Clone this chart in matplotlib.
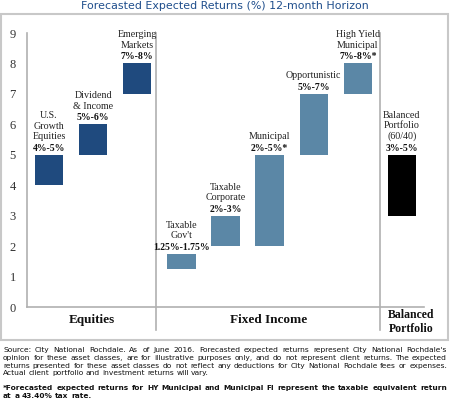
import matplotlib
matplotlib.use("Agg")
import matplotlib.pyplot as plt
from matplotlib.transforms import IdentityTransform
from matplotlib.patches import Rectangle

# ---------------- data ----------------
names = ["U.S.\nGrowth\nEquities", "Dividend\n& Income", "Emerging\nMarkets",
         "Taxable\nGov't", "Taxable\nCorporate", "Municipal", "Opportunistic",
         "High Yield\nMunicipal", "Balanced\nPortfolio\n(60/40)"]
low = [4, 5, 7, 1.25, 2, 2, 5, 7, 3]
high = [5, 6, 8, 1.75, 3, 5, 7, 8, 5]
range_labels = ["4%-5%", "5%-6%", "7%-8%", "1.25%-1.75%", "2%-3%", "2%-5%*",
                "5%-7%", "7%-8%*", "3%-5%"]
groups = ["E", "E", "E", "F", "F", "F", "F", "F", "B"]
group_titles = ["Equities", "Fixed Income", "Balanced\nPortfolio"]
yticks = [0, 1, 2, 3, 4, 5, 6, 7, 8, 9]
title = "Forecasted Expected Returns (%) 12-month Horizon"
note_lines = [
    "Source: City National Rochdale. As of June 2016. Forecasted expected returns represent City National Rochdale's",
    "opinion for these asset classes, are for illustrative purposes only, and do not represent client returns. The expected",
    "returns presented for these asset classes do not reflect any deductions for City National Rochdale fees or expenses.",
    "Actual client portfolio and investment returns will vary.",
]
bold_lines = [
    "*Forecasted expected returns for HY Municipal and Municipal FI represent the taxable equivalent return",
    "at a 43.40% tax rate.",
]

colors = {"E": "#1f4a7e", "F": "#5b87a6", "B": "#000000"}
SERIF = "Liberation Serif"

W, H = 450, 398
fig = plt.figure(figsize=(4.5, 3.98), dpi=100)

def px(x, y):
    return x / W, 1 - y / H

# axes: x from 27 to 424 px, y=0 at 307 px, y=9 at 33 px
ax = fig.add_axes([27 / W, (H - 307) / H, (424 - 27) / W, (307 - 33) / H])
ax.set_xlim(-0.5, 8.5)
ax.set_ylim(0, 9)

xs = list(range(len(names)))
heights = [h - l for h, l in zip(high, low)]
ax.bar(xs, heights, bottom=low, width=0.64,
       color=[colors[g] for g in groups], zorder=2)

for x, top, nm, rl in zip(xs, high, names, range_labels):
    ax.annotate(rl, (x, top), xytext=(0, 2), textcoords="offset pixels",
                ha="center", va="bottom", fontsize=7, fontweight="bold",
                family=SERIF, color="#111111")
    ax.annotate(nm, (x, top), xytext=(0, 13.5), textcoords="offset pixels",
                ha="center", va="bottom", fontsize=7.2, family=SERIF,
                color="#222222", linespacing=1.22)

for s in ["top", "right"]:
    ax.spines[s].set_visible(False)
for s in ["left", "bottom"]:
    ax.spines[s].set_color("#b0b0b0")
    ax.spines[s].set_linewidth(1.2)
ax.set_xticks([])
ax.set_yticks(yticks)
ax.set_yticklabels([str(t) for t in yticks], family=SERIF, fontsize=9,
                   color="#333333")
ax.tick_params(axis="y", length=0, pad=8)

# group separators
for xv in [2.43, 7.5]:
    ax.axvline(xv, ymin=-0.085, ymax=1.0, color="#b0b0b0", lw=1.2,
               clip_on=False, zorder=1)

# group titles
fig.text(*px(92, 320), group_titles[0], ha="center", va="center",
         family=SERIF, fontweight="bold", fontsize=9.5, color="#111111")
fig.text(*px(269, 320), group_titles[1], ha="center", va="center",
         family=SERIF, fontweight="bold", fontsize=9.5, color="#111111")
fig.text(*px(411, 322), group_titles[2], ha="center", va="center",
         family=SERIF, fontweight="bold", fontsize=8.5, color="#111111",
         linespacing=1.3)

# border box
fig.patches.append(Rectangle(px(1, 340), 447 / W, (340 - 14) / H,
                             transform=fig.transFigure, fill=False,
                             edgecolor="#c8c8c8", lw=1.5))

# title
fig.text(*px(225, 6), title, ha="center", va="center", fontsize=7.9,
         color="#1f4e8c", family="DejaVu Sans")

# justified footnotes
renderer = fig.canvas.get_renderer()

def width_of(s, weight, size):
    t = fig.text(0, 0, s, fontsize=size, fontweight=weight, family="DejaVu Sans")
    w = t.get_window_extent(renderer).width
    t.remove()
    return w

def justified(lines, x0, x1, y0, step, weight):
    # pick the size at which the widest full line just fills the width
    ref = 6.0
    widest = max(width_of(l, weight, ref) for l in lines[:-1])
    size = ref * (x1 - x0) / widest * 0.995
    sp = width_of("a a", weight, size) - width_of("aa", weight, size)
    for i, line in enumerate(lines):
        words = line.split(" ")
        ws = [width_of(w, weight, size) for w in words]
        last = i == len(lines) - 1
        gap = sp if last else (x1 - x0 - sum(ws)) / (len(words) - 1)
        x = x0
        yy = H - (y0 + i * step)
        for w, wd in zip(words, ws):
            fig.text(x, yy, w, transform=IdentityTransform(), fontsize=size,
                     fontweight=weight, family="DejaVu Sans", va="center",
                     ha="left", color="#111111")
            x += wd + gap

justified(note_lines, 3, 447, 350, 7.8, "normal")
justified(bold_lines, 3, 447, 388, 7.8, "bold")

fig.savefig("out.png", dpi=100)
